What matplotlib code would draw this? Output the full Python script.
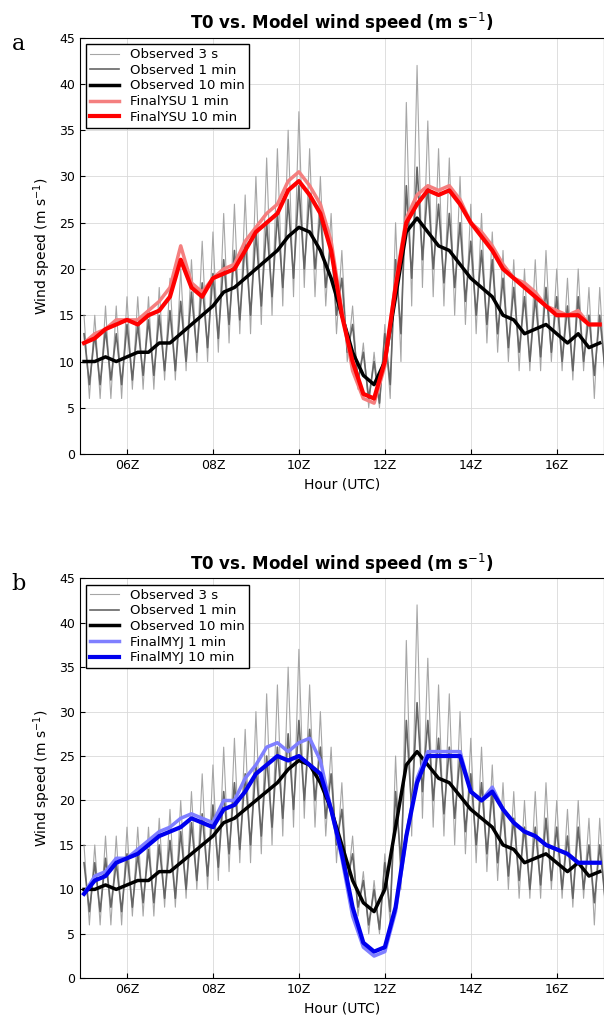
import numpy as np
import matplotlib.pyplot as plt

# time axis in hours UTC, 15-min steps
hours = np.arange(5.0, 17.01, 0.25)

obs10 = [10, 10, 10.5, 10, 10.5, 11, 11, 12, 12, 13, 14, 15, 16, 17.5, 18, 19, 20, 21, 22, 23.5,
         24.5, 24, 22, 19, 15, 11, 8.5, 7.5, 10, 17, 24, 25.5, 24, 22.5, 22, 20.5, 19, 18, 17, 15,
         14.5, 13, 13.5, 14, 13, 12, 13, 11.5, 12]
obs3_hi = [15, 15, 16, 16, 17, 17, 17, 18, 19, 20, 21, 23, 24, 26, 27, 28, 30, 32, 33, 35,
           37, 33, 30, 26, 22, 16, 12, 11, 14, 25, 38, 42, 36, 33, 32, 30, 27, 26, 24, 22,
           21, 20, 21, 22, 20, 19, 20, 18, 18]
obs3_lo = [6, 6, 6, 6, 7, 7, 7, 8, 8, 9, 10, 10, 11, 12, 13, 13, 14, 15, 16, 17,
           18, 17, 16, 13, 10, 7, 5, 5, 6, 10, 16, 18, 17, 16, 15, 14, 13, 12, 11, 10,
           9, 9, 9, 10, 9, 8, 9, 6, 8]
obs1_hi = [13, 13, 13.5, 13, 14, 14, 14.5, 15, 15.5, 16.5, 17.5, 18.5, 19.5, 21, 22, 23, 24, 25, 26, 27.5,
           29, 28, 26, 23, 19, 14, 11, 10, 13, 21, 29, 31, 29, 27, 26, 25, 23, 22, 21, 19,
           18, 17, 17, 18, 17, 16, 17, 15, 15]
obs1_lo = [7.5, 7.5, 8, 7.5, 8, 8.5, 8.5, 9, 9, 10, 11, 11.5, 12.5, 14, 14.5, 15, 16, 17, 18, 19,
           20, 20, 18, 15, 11, 8, 6, 5.5, 7.5, 13, 19, 21, 20, 18.5, 18, 16.5, 15, 14, 13, 11.5,
           11, 10, 10.5, 11, 10, 9, 10, 8.5, 9]
ysu10 = [12, 12.5, 13.5, 14, 14.5, 14, 15, 15.5, 17, 21, 18, 17, 19, 19.5, 20, 22, 24, 25, 26, 28.5,
         29.5, 28, 26, 22, 15, 10, 6.5, 6, 10, 18, 25, 27, 28.5, 28, 28.5, 27, 25, 23.5, 22, 20,
         19, 18, 17, 16, 15, 15, 15, 14, 14]
ysu1 = [12, 13, 13.5, 14.5, 14.5, 14.5, 15.5, 16.5, 18, 22.5, 18.5, 17.5, 19, 20, 20.5, 23, 24.5, 26, 27, 29.5,
        30.5, 29, 27, 23, 15.5, 9, 6, 5.5, 9.5, 18.5, 25.5, 28, 29, 28.5, 29, 27.5, 25, 24, 22.5, 20.5,
        19, 18.5, 17.5, 16, 15.5, 15, 15.5, 14, 14]
myj10 = [9.5, 11, 11.5, 13, 13.5, 14, 15, 16, 16.5, 17, 18, 17.5, 17, 19, 19.5, 21, 23, 24, 25, 24.5,
         25, 24, 23, 19, 14, 8, 4, 3, 3.5, 8, 16, 22, 25, 25, 25, 25, 21, 20, 21, 19,
         17.5, 16.5, 16, 15, 14.5, 14, 13, 13, 13]
myj1 = [9.5, 11.5, 12, 13.5, 13.5, 14.5, 15.5, 16.5, 17, 18, 18.5, 18, 17.5, 20, 20, 22.5, 24, 26, 26.5, 25.5,
        26.5, 27, 24.5, 19, 13.5, 7, 3.5, 2.5, 3, 7.5, 16, 22.5, 25.5, 25.5, 25.5, 25.5, 21, 20, 21.5, 19,
        17.5, 16.5, 16, 15, 14.5, 14, 13, 13, 13]
tick_hours = [6, 8, 10, 12, 14, 16]
tick_labels = ['06Z', '08Z', '10Z', '12Z', '14Z', '16Z']


def zigzag(hi, lo):
    # alternate between typed upper and lower readings
    x = np.ravel(np.column_stack([hours, hours + 0.125]))
    y = np.ravel(np.column_stack([hi, lo]))
    return x, y


fig = plt.figure(figsize=(6.04, 10.18), dpi=100)
ax_a = fig.add_axes([0.132, 0.554, 0.868, 0.409])
ax_b = fig.add_axes([0.132, 0.039, 0.868, 0.393])

panels = [(ax_a, 'a', ysu1, ysu10, 'FinalYSU', '#f47f7f', '#ff0000'),
          (ax_b, 'b', myj1, myj10, 'FinalMYJ', '#7f7fff', '#0000ee')]

for ax, letter, m1, m10, name, c1, c10 in panels:
    x3, y3 = zigzag(obs3_hi, obs3_lo)
    x1, y1 = zigzag(obs1_hi, obs1_lo)
    ax.plot(x3, y3, color='0.65', lw=0.8, label='Observed 3 s')
    ax.plot(x1, y1, color='0.4', lw=1.2, label='Observed 1 min')
    ax.plot(hours, obs10, color='k', lw=2.5, label='Observed 10 min')
    ax.plot(hours, m1, color=c1, lw=2.5, label=name + ' 1 min')
    ax.plot(hours, m10, color=c10, lw=3, label=name + ' 10 min')
    ax.set_xlim(4.9, 17.1)
    ax.set_ylim(0, 45)
    ax.set_yticks(range(0, 46, 5))
    ax.set_xticks(tick_hours)
    ax.set_xticklabels(tick_labels)
    ax.tick_params(labelsize=9, direction='in')
    ax.grid(True, color='0.85', lw=0.6)
    ax.set_xlabel('Hour (UTC)', fontsize=10)
    ax.set_ylabel('Wind speed (m s$^{-1}$)', fontsize=10)
    ax.set_title('T0 vs. Model wind speed (m s$^{-1}$)', fontsize=12, fontweight='bold')
    ax.legend(loc='upper left', fontsize=9.5, framealpha=1, edgecolor='k',
              handlelength=2.2, borderpad=0.3, labelspacing=0.2, fancybox=False)
    ax.text(-0.13, 0.97, letter, transform=ax.transAxes, fontsize=16, family='serif')

fig.savefig('out.png', dpi=100)
